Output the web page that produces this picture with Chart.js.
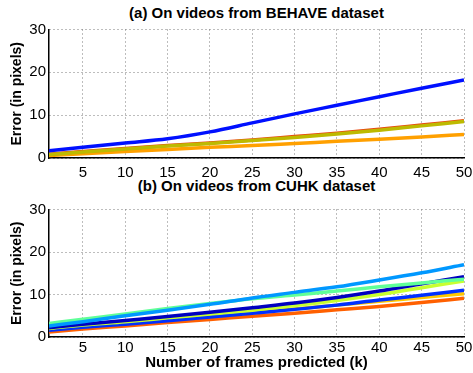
<!DOCTYPE html>
<html><head><meta charset="utf-8">
<script src="https://cdn.jsdelivr.net/npm/chart.js@4/dist/chart.umd.min.js"></script>
<style>
html,body{margin:0;padding:0;background:#fff;}
#wrap{position:relative;width:473px;height:373px;overflow:hidden;font-family:"Liberation Sans",Arial,sans-serif;}
.ttl{position:absolute;left:49px;width:415px;text-align:center;font-weight:bold;font-size:15px;color:#000;line-height:17px;}
canvas{position:absolute;left:0;}
</style></head><body>
<div id="wrap">
<div class="ttl" style="top:4px">(a) On videos from BEHAVE dataset</div>
<div class="ttl" style="top:177px">(b) On videos from CUHK dataset</div>
<canvas id="c1" width="473" height="180" style="top:0;width:473px;height:180px"></canvas>
<canvas id="c2" width="473" height="193" style="top:180px;width:473px;height:193px"></canvas>
</div>
<script>
const K = [1,5,10,15,20,25,30,35,40,45,50];
const xTicks = [5,10,15,20,25,30,35,40,45,50];
const yTicks = [0,10,20,30];

// (a) BEHAVE
const behaveBlue   = [1.7,2.5,3.5,4.5,6.1,8.2,10.3,12.3,14.3,16.3,18.2];
const behaveRed    = [0.9,1.5,2.2,2.9,3.5,4.2,5.0,5.8,6.7,7.7,8.7];
const behaveOlive  = [0.8,1.4,2.1,2.8,3.4,4.1,4.8,5.6,6.5,7.5,8.5];
const behaveOrange = [0.6,1.0,1.5,2.0,2.5,2.9,3.4,3.9,4.4,4.9,5.5];

// (b) CUHK
const cuhkLightBlue  = [2.6,3.6,5.0,6.3,7.7,9.2,10.5,11.8,13.4,15.1,17.0];
const cuhkGreen      = [3.2,4.2,5.4,6.7,7.9,9.0,9.9,10.8,11.8,12.7,13.6];
const cuhkDarkBlue   = [2.2,3.0,3.9,4.8,5.8,6.9,8.0,9.3,10.8,12.5,14.2];
const cuhkYellowGreen= [2.0,2.8,3.6,4.5,5.4,6.3,7.4,8.6,10.0,11.6,13.2];
const cuhkBlue       = [1.6,2.3,3.0,3.8,4.7,5.6,6.5,7.5,8.7,9.8,11.0];
const cuhkYellow     = [1.8,2.5,3.3,4.0,4.9,5.8,6.6,7.5,8.4,9.3,10.2];
const cuhkOrange     = [1.2,1.9,2.6,3.4,4.1,4.9,5.6,6.4,7.2,8.1,9.1];

function pts(arr){ return K.map((k,i)=>({x:k,y:arr[i]})); }
function ds(arr,color){
  return {data:pts(arr),borderColor:color,backgroundColor:color,borderWidth:3.5,pointRadius:0,cubicInterpolationMode:'monotone',fill:false};
}
const FONT = "'Liberation Sans', Arial, sans-serif";

function makeOpts(xHeight, tickPad, showXTitle){
  return {
    responsive:false, animation:false,
    layout:{padding:{top:29.5,right:9,left:0,bottom:0}},
    plugins:{legend:{display:false},tooltip:{enabled:false},title:{display:false}},
    scales:{
      x:{type:'linear',min:1,max:50,
        afterBuildTicks:(s)=>{s.ticks=xTicks.map(v=>({value:v}));},
        afterFit:(s)=>{s.height=xHeight;s.paddingRight=0;s.paddingLeft=0;},
        grid:{color:'#7a7a7a',lineWidth:1,drawTicks:false},
        border:{display:true,color:'#000',width:1.5,dash:[1,3]},
        ticks:{color:'#000',font:{family:FONT,size:15},padding:tickPad,maxRotation:0,autoSkip:false},
        title:{display:showXTitle,text:'Number of frames predicted (k)',color:'#000',font:{family:FONT,size:15,weight:'bold'},padding:{top:0,bottom:1}}
      },
      y:{min:0,max:30,
        afterBuildTicks:(s)=>{s.ticks=yTicks.map(v=>({value:v}));},
        afterFit:(s)=>{s.width=49;s.paddingTop=0;s.paddingBottom=0;},
        grid:{color:'#7a7a7a',lineWidth:1,drawTicks:false},
        border:{display:true,color:'#000',width:1.5,dash:[1,3]},
        ticks:{color:'#000',font:{family:FONT,size:15},padding:3},
        title:{display:true,text:'Error (in pixels)',color:'#000',font:{family:FONT,size:14,weight:'bold'},padding:{top:9,bottom:0}}
      }
    }
  };
}

new Chart(document.getElementById('c1'),{
  type:'line',
  data:{datasets:[
    ds(behaveBlue,'#0010FF'),
    ds(behaveOlive,'#BDBA00'),
    ds(behaveRed,'#E84A10'),
    ds(behaveOrange,'#FFA000')
  ]},
  options:makeOpts(22,6,false)
});

new Chart(document.getElementById('c2'),{
  type:'line',
  data:{datasets:[
    ds(cuhkLightBlue,'#0098FF'),
    ds(cuhkGreen,'#60FF98'),
    ds(cuhkDarkBlue,'#0000C0'),
    ds(cuhkYellowGreen,'#C8FF30'),
    ds(cuhkBlue,'#0030FF'),
    ds(cuhkYellow,'#FFC800'),
    ds(cuhkOrange,'#FF6000')
  ]},
  options:makeOpts(36,2,true)
});
</script>
</body></html>
